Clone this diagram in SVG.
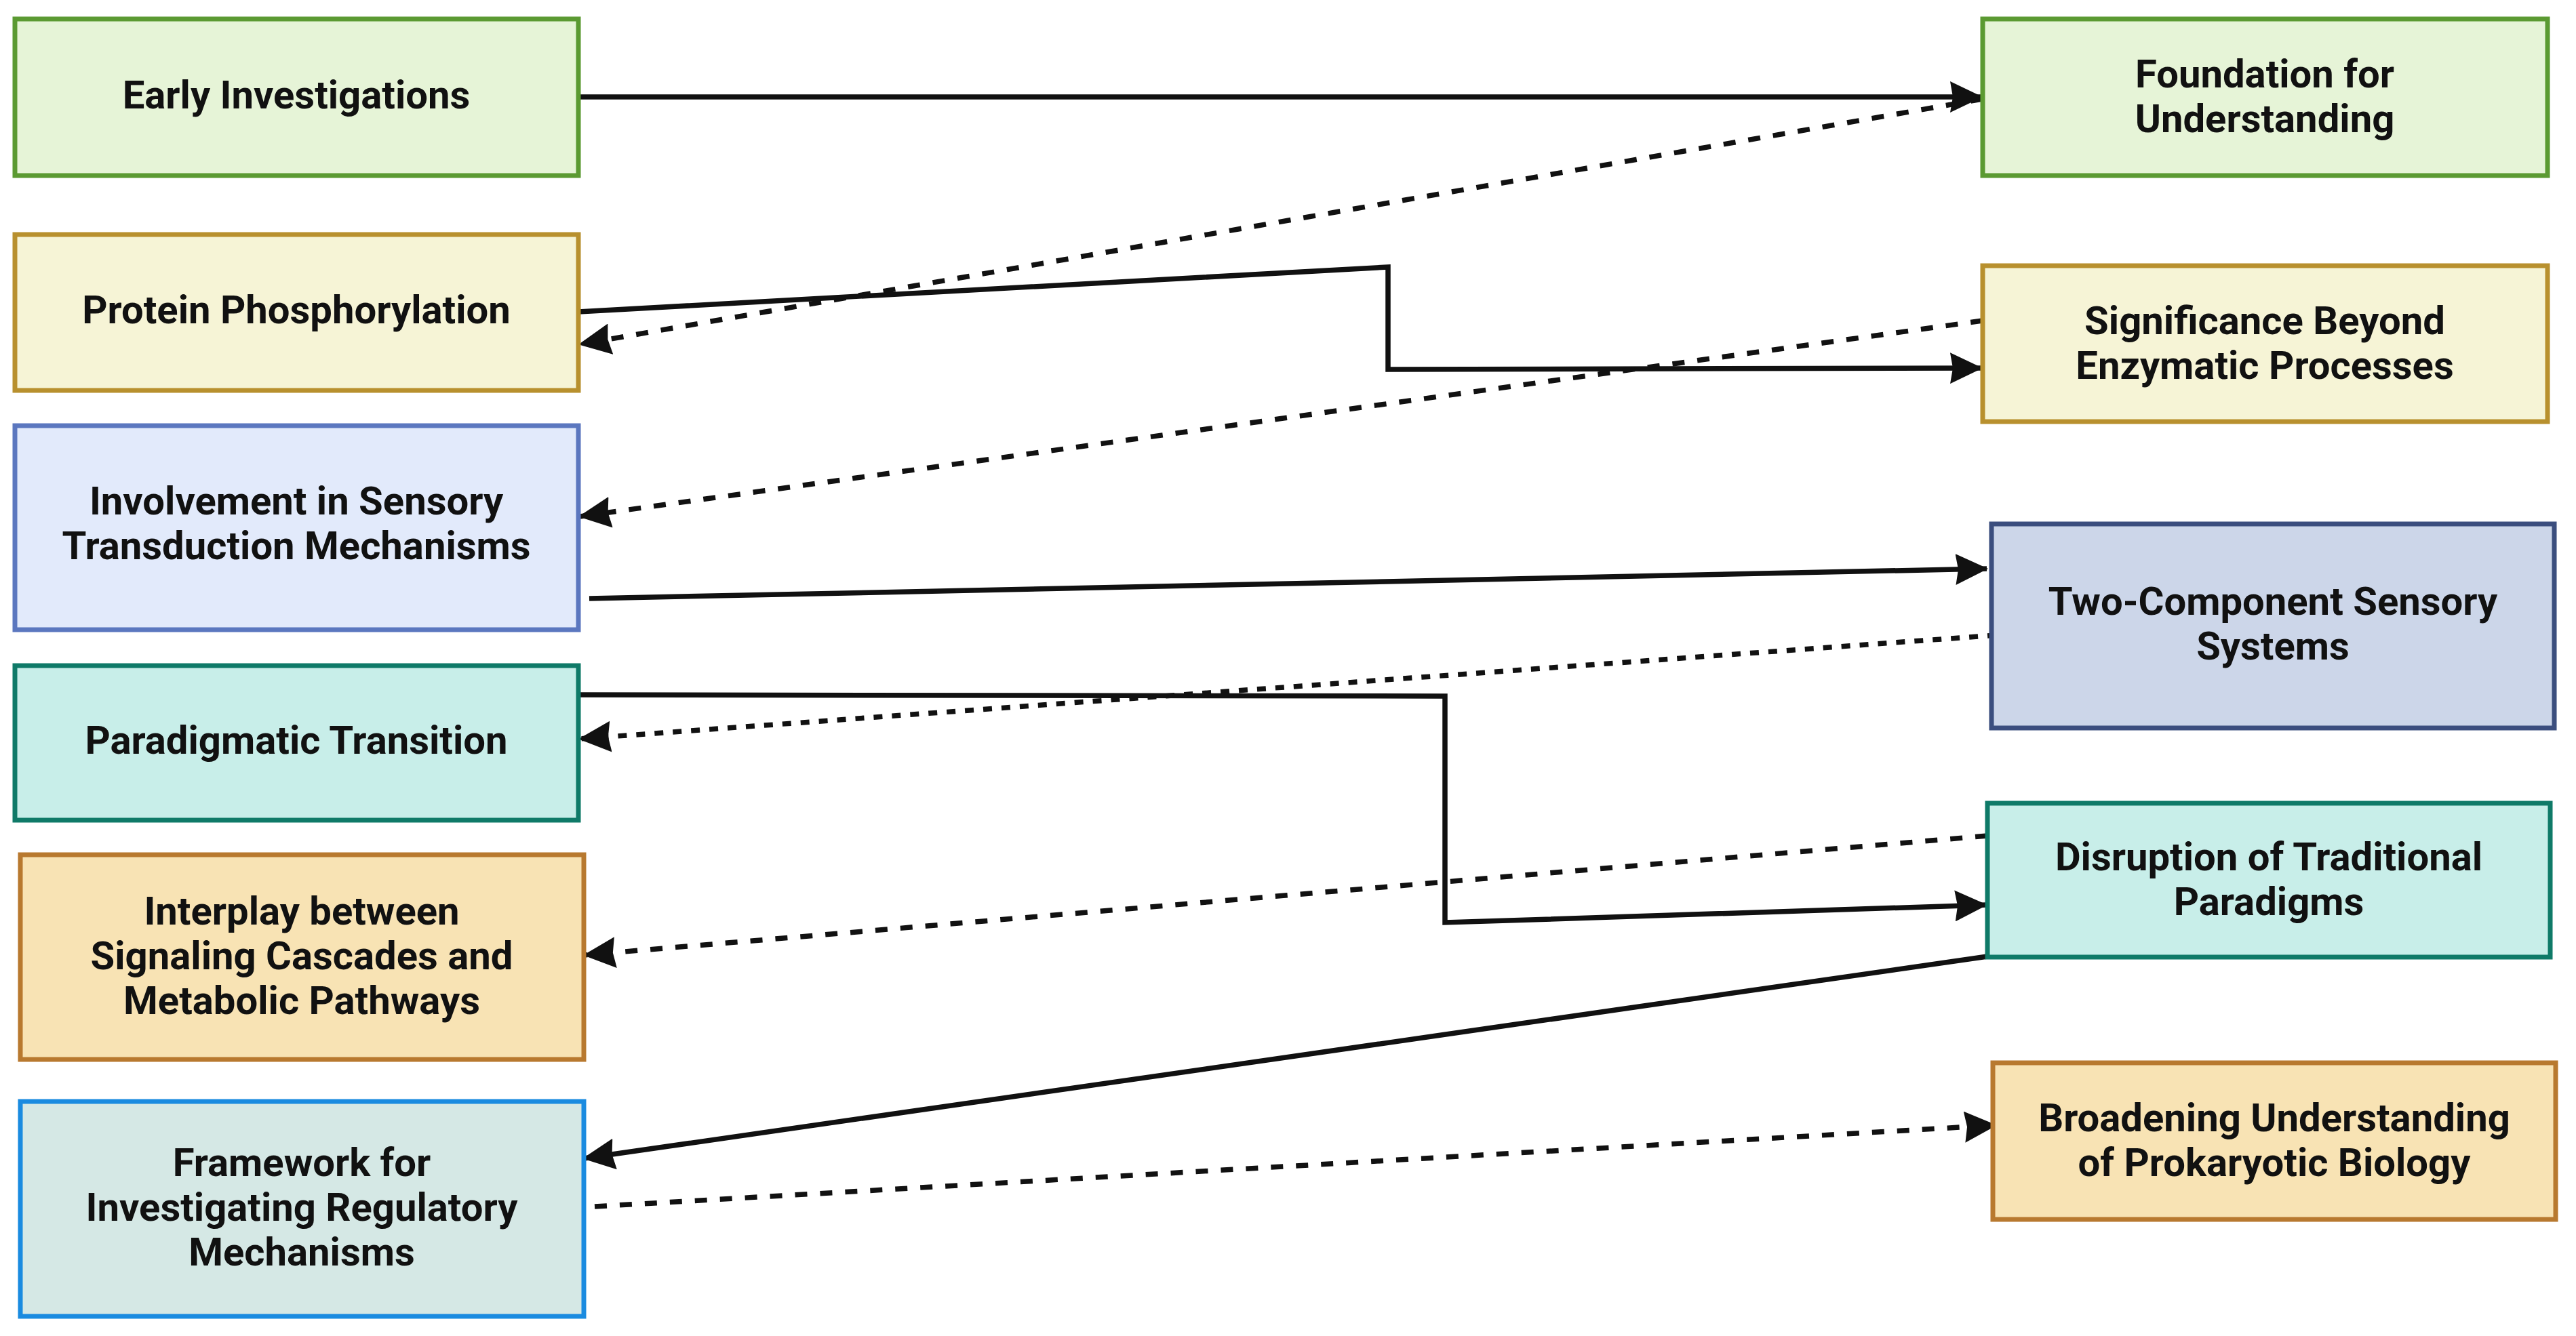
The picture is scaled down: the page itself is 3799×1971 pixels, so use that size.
<svg xmlns="http://www.w3.org/2000/svg" width="3799" height="1971" viewBox="0 0 3799 1971">
<defs>
<style>
.box{stroke-width:7}
.t{font-family:Roboto,"Liberation Sans",Arial,sans-serif;font-weight:700;font-size:58px;fill:#111;text-anchor:middle}
.c{fill:none;stroke:#111;stroke-width:7.5}
.dash{stroke-dasharray:18 19}
.dot{stroke-dasharray:13 14}
.green{fill:#e6f4d7;stroke:#5b9a32}
.gold{fill:#f6f4d6;stroke:#b8902e}
.lblue{fill:#e2eafb;stroke:#5b77bf}
.navy{fill:#ccd6e9;stroke:#3b4e7e}
.teal{fill:#c8eee9;stroke:#0f7a68}
.orange{fill:#f8e3b4;stroke:#b8792f}
.sky{fill:#d5e8e5;stroke:#1a8be0}
</style>
<marker id="ah" markerUnits="userSpaceOnUse" markerWidth="50" markerHeight="46" refX="46" refY="23" orient="auto">
<path d="M0,0 L48,23 L0,46 L4,23 z" fill="#111"/>
</marker>
</defs>
<rect width="3799" height="1971" fill="#fff"/>

<g id="connectors">
<path class="c" d="M853,143 L2922,143" marker-end="url(#ah)"/>
<path class="c dash" d="M2924,146 L855,508" marker-end="url(#ah)"/>
<path class="c" d="M853,460 L2047,394 L2047,545 L2922,543" marker-end="url(#ah)"/>
<path class="c dash" d="M2924,473 L855,762" marker-end="url(#ah)"/>
<path class="c" d="M869,883 L2930,839" marker-end="url(#ah)"/>
<path class="c dot" d="M2944,937 L855,1090" marker-end="url(#ah)"/>
<path class="c" d="M853,1025 L2131,1027 L2131,1361 L2929,1335" marker-end="url(#ah)"/>
<path class="c dash" d="M2931,1233 L862,1409" marker-end="url(#ah)"/>
<path class="c" d="M2931,1411 L861,1709" marker-end="url(#ah)"/>
<path class="c dash" d="M877,1780 L2943,1660" marker-end="url(#ah)"/>
</g>

<g id="early">
<rect class="box green" x="22" y="28" width="831" height="231"/>
<text class="t" x="437" y="160">Early Investigations</text>
</g>
<g id="protein">
<rect class="box gold" x="22" y="346" width="831" height="230"/>
<text class="t" x="437" y="477">Protein Phosphorylation</text>
</g>
<g id="involvement">
<rect class="box lblue" x="22" y="628" width="831" height="301"/>
<text class="t" x="437" y="759">Involvement in Sensory</text>
<text class="t" x="437" y="825">Transduction Mechanisms</text>
</g>
<g id="paradigmatic">
<rect class="box teal" x="22" y="982" width="831" height="228"/>
<text class="t" x="437" y="1112">Paradigmatic Transition</text>
</g>
<g id="interplay">
<rect class="box orange" x="30" y="1261" width="831" height="302"/>
<text class="t" x="445" y="1364">Interplay between</text>
<text class="t" x="445" y="1430">Signaling Cascades and</text>
<text class="t" x="445" y="1496">Metabolic Pathways</text>
</g>
<g id="framework">
<rect class="box sky" x="30" y="1625" width="831" height="317"/>
<text class="t" x="445" y="1735">Framework for</text>
<text class="t" x="445" y="1801">Investigating Regulatory</text>
<text class="t" x="445" y="1867">Mechanisms</text>
</g>

<g id="foundation">
<rect class="box green" x="2924" y="28" width="833" height="231"/>
<text class="t" x="3340" y="129">Foundation for</text>
<text class="t" x="3340" y="195">Understanding</text>
</g>
<g id="significance">
<rect class="box gold" x="2924" y="392" width="833" height="230"/>
<text class="t" x="3340" y="493">Significance Beyond</text>
<text class="t" x="3340" y="559">Enzymatic Processes</text>
</g>
<g id="twocomponent">
<rect class="box navy" x="2937" y="773" width="830" height="301"/>
<text class="t" x="3352" y="907">Two-Component Sensory</text>
<text class="t" x="3352" y="973">Systems</text>
</g>
<g id="disruption">
<rect class="box teal" x="2931" y="1185" width="830" height="227"/>
<text class="t" x="3346" y="1284">Disruption of Traditional</text>
<text class="t" x="3346" y="1350">Paradigms</text>
</g>
<g id="broadening">
<rect class="box orange" x="2939" y="1568" width="830" height="231"/>
<text class="t" x="3354" y="1669">Broadening Understanding</text>
<text class="t" x="3354" y="1735">of Prokaryotic Biology</text>
</g>
</svg>
